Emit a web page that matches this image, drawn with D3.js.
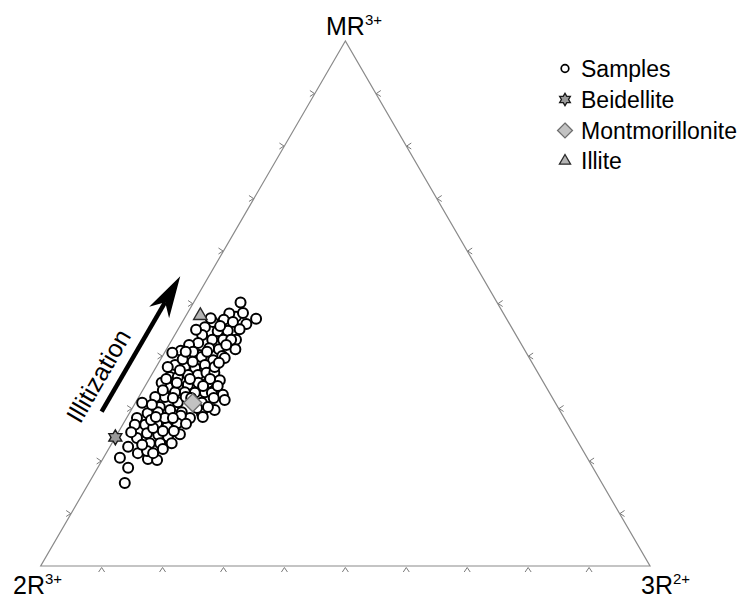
<!DOCTYPE html>
<html><head><meta charset="utf-8">
<script src="https://cdn.jsdelivr.net/npm/d3@7"></script>
<style>
body{margin:0;background:#fff}
svg{display:block}
text{font-family:"Liberation Sans",Arial,Helvetica,sans-serif;fill:#000}
</style>
</head><body>
<svg id="chart" width="742" height="599"></svg>
<script>
// ---- data (ternary percentages: MR3+, 3R2+; 2R3+ = 100 - MR - 3R) ----
const samplesMR = [50.2,47.1,46.1,47.5,48.1,48.2,46.9,46.5,45.1,46.5,45.5,44.7,44.8,43.1,41.3,43.1,43.1,44.0,42.5,41.5,
  41.3,42.1,41.0,40.6,40.2,39.2,39.8,39.2,40.0,38.3,37.7,37.9,38.3,36.0,36.0,36.4,36.4,36.8,36.8,34.9,
  34.9,34.5,34.1,34.1,34.9,33.1,33.0,33.0,33.1,33.1,32.2,32.2,30.3,29.7,31.2,29.3,31.1,29.1,29.7,32.6,
  31.6,31.1,29.1,35.4,39.6,37.9,35.6,35.6,37.9,35.6,28.4,28.2,29.3,28.2,28.6,26.9,27.2,26.5,27.2,24.4,
  25.3,25.0,24.6,25.1,23.4,23.4,23.4,22.7,21.5,20.4,20.2,21.9,20.6,18.7,15.8,26.9,28.2,40.8,39.4,30.7,
  26.3,25.7,25.7,32.2,34.3,
  45.0,40.8,38.9,37.3,34.3,32.0,32.0,32.0,33.5,27.8,28.2,27.1,22.3,23.1,21.5,25.5,47.2,45.7,43.1,42.1,
  40.8,34.9,28.4,30.1,30.3,38.7];
const samples3R = [7.7,11.8,10.7,8.3,6.9,9.1,6.6,8.3,10.1,5.0,4.2,6.7,8.3,10.5,11.3,8.4,6.6,4.5,4.6,6.9,
  8.6,3.3,2.5,1.3,5.9,4.6,6.5,8.7,9.8,7.8,6.5,4.7,2.9,3.2,4.5,6.0,7.6,8.8,10.1,10.0,
  8.4,6.9,5.5,3.8,2.4,10.4,11.6,8.8,7.1,5.5,4.3,2.7,4.4,6.4,6.9,8.5,10.9,11.9,13.7,13.6,
  14.4,1.1,3.0,11.7,10.4,9.6,10.0,6.7,1.9,2.8,12.4,1.7,4.6,10.4,8.7,3.7,5.5,7.5,8.8,3.6,
  4.8,6.8,8.6,10.3,6.2,7.9,9.8,3.0,5.2,7.4,9.0,6.5,2.7,5.0,5.9,2.0,6.3,4.6,3.6,2.9,
  5.3,7.2,9.0,7.7,11.9,
  3.0,6.9,5.5,4.2,9.5,12.4,8.7,5.7,3.3,4.2,7.6,10.3,8.9,5.1,7.7,2.1,4.3,6.6,9.7,9.4,
  3.4,4.9,4.7,10.6,12.3,9.9];
const mineralNames = ["Beidellite","Montmorillonite","Illite"];
const mineralMR = [24.5, 31.1, 47.8];
const mineral3R = [0.0, 9.4, 2.3];
const legendLabels = ["Samples","Beidellite","Montmorillonite","Illite"];
const vertexNames = ["MR","2R","3R"];
const vertexCharges = ["3+","3+","2+"];
const tickValues = [10,20,30,40,50,60,70,80,90];
const arrowMR = [29.4, 55.2];   // tail, tip
const arrow3R = [-4.7, -4.7];
const arrowLabel = "Illitization";

// ---- scales ----
const svg = d3.select("#chart");
const xBase = d3.scaleLinear().domain([0,100]).range([40.7,650]);
const yMR = d3.scaleLinear().domain([0,100]).range([566,41]);
const proj = (mr, r3) => [xBase(r3 + mr/2), yMR(mr)];

// ---- triangle ----
const A = proj(100,0), B = proj(0,0), C = proj(0,100);
svg.append("path")
  .attr("d", d3.line()([A,B,C]) + "Z")
  .attr("fill","none").attr("stroke","#8a8a8a").attr("stroke-width",1.2);

// ---- ticks (chevrons outside, pointing inward) ----
const tg = svg.append("g").attr("fill","none").attr("stroke","#7a7a7a").attr("stroke-width",1);
tickValues.forEach(t => {
  const [bx,by] = proj(0,t);
  tg.append("path").attr("d",`M${bx-3},${by+6}L${bx},${by+1.5}L${bx+3},${by+6}`);
  const [lx,ly] = proj(t,0);
  tg.append("path").attr("d",`M${lx-5},${ly-3}L${lx-0.5},${ly}L${lx-5},${ly+3}`);
  const [rx,ry] = proj(t,100-t);
  tg.append("path").attr("d",`M${rx+5},${ry-3}L${rx+0.5},${ry}L${rx+5},${ry+3}`);
});

// ---- vertex labels ----
const labelPos = [[326,35],[13,594],[641,594]];
vertexNames.forEach((n,i) => {
  const t = svg.append("text").attr("x",labelPos[i][0]).attr("y",labelPos[i][1]).attr("font-size",25);
  t.append("tspan").text(n);
  t.append("tspan").attr("font-size",15).attr("dy",-10).text(vertexCharges[i]);
});

// ---- marker shapes ----
function hexagram(r){
  const pts = d3.range(12).map(k => {
    const a = -Math.PI/2 + k*Math.PI/6;
    const rr = k%2===0 ? r : r/Math.sqrt(3);
    return [rr*Math.cos(a), rr*Math.sin(a)];
  });
  return d3.line()(pts)+"Z";
}
function diamond(h){ return `M0,${-h}L${h},0L0,${h}L${-h},0Z`; }
function triangle(s){ const h = s*Math.sqrt(3)/2; return `M0,${-h*0.62}L${s/2},${h*0.38}L${-s/2},${h*0.38}Z`; }
const shapeFns = [r=>hexagram(r*1.0), r=>diamond(r*1.2), r=>triangle(r*1.8)];
const fills = ["#9a9a9a","#c2c2c2","#b4b4b4"];
const strokes = ["#1a1a1a","#6e6e6e","#2a2a2a"];

// ---- samples ----
svg.append("g").selectAll("circle")
  .data(samplesMR.map((m,i)=>({mr:m, r3:samples3R[i]})))
  .join("circle")
  .attr("cx", d=>proj(d.mr,d.r3)[0])
  .attr("cy", d=>proj(d.mr,d.r3)[1])
  .attr("r", 5)
  .attr("fill","#fff").attr("stroke","#000").attr("stroke-width",2);

// ---- reference minerals ----
mineralNames.forEach((n,i) => {
  const [x,y] = proj(mineralMR[i], mineral3R[i]);
  svg.append("path").attr("d", shapeFns[i](7.5))
    .attr("transform",`translate(${x},${y})`)
    .attr("fill",fills[i]).attr("stroke",strokes[i]).attr("stroke-width",1.4);
});

// ---- arrow + label ----
const tail = proj(arrowMR[0], arrow3R[0]), tip = proj(arrowMR[1], arrow3R[1]);
const ang = Math.atan2(tip[1]-tail[1], tip[0]-tail[0])*180/Math.PI;
const L = Math.hypot(tip[0]-tail[0], tip[1]-tail[1]);
const ag = svg.append("g").attr("transform",`translate(${tail[0]},${tail[1]}) rotate(${ang})`);
ag.append("line").attr("x1",0).attr("y1",0).attr("x2",L-30).attr("y2",0)
  .attr("stroke","#000").attr("stroke-width",4.5);
ag.append("path").attr("d",`M${L},0L${L-42},${-11.5}L${L-30},0L${L-42},${11.5}Z`).attr("fill","#000");
ag.append("text").attr("x",L/2-49).attr("y",-12).attr("text-anchor","middle")
  .attr("font-size",25).text(arrowLabel);

// ---- legend ----
const lg = svg.append("g");
const rowY = [77,108,139,169];
legendLabels.forEach((n,i) => {
  const my = rowY[i]-8.5;
  if(i===0){
    lg.append("circle").attr("cx",565).attr("cy",my).attr("r",3.8)
      .attr("fill","#fff").attr("stroke","#000").attr("stroke-width",1.7);
  } else {
    lg.append("path").attr("d", shapeFns[i-1](6.2))
      .attr("transform",`translate(565,${my})`)
      .attr("fill",fills[i-1]).attr("stroke",strokes[i-1]).attr("stroke-width",1.3);
  }
  lg.append("text").attr("x",581).attr("y",rowY[i]).attr("font-size",23).text(n);
});
</script>
</body></html>
